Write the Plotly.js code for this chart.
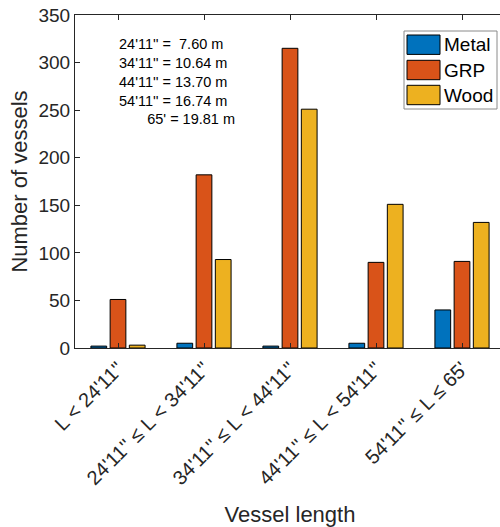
<!DOCTYPE html>
<html>
<head>
<meta charset="utf-8">
<script src="https://cdn.plot.ly/plotly-3.0.1.min.js"></script>
<style>
  html, body { margin: 0; padding: 0; overflow: hidden; background: #fff; }
  #chart { width: 510px; height: 527px; }
</style>
</head>
<body>
<div id="chart"></div>
<script>
// Vessel counts by length class and hull material
const lengthClasses = [
  "L < 24'11''",
  "24'11'' \u2264 L < 34'11''",
  "34'11'' \u2264 L < 44'11''",
  "44'11'' \u2264 L < 54'11''",
  "54'11'' \u2264 L \u2264 65'"
];
const materials = ["Metal", "GRP", "Wood"];
const metalCounts = [2, 5, 2, 5, 40];
const grpCounts = [51, 182, 315, 90, 91];
const woodCounts = [3, 93, 251, 151, 132];
const materialColors = ["#0072BD", "#D95319", "#EDB120"];
const conversionLines = [
  "24'11'' =\u00A0\u00A07.60 m",
  "34'11'' = 10.64 m",
  "44'11'' = 13.70 m",
  "54'11'' = 16.74 m",
  "\u00A0\u00A0\u00A0\u00A0\u00A0\u00A0\u00A065' = 19.81 m"
];
const yTicks = [0, 50, 100, 150, 200, 250, 300, 350];

const seriesValues = [metalCounts, grpCounts, woodCounts];
const ink = '#262626';
const fontFamily = '"Liberation Sans", Arial, Helvetica, sans-serif';

const traces = materials.map((name, i) => ({
  type: 'bar',
  name: name,
  x: lengthClasses,
  y: seriesValues[i],
  marker: { color: materialColors[i], line: { color: '#000', width: 1 } },
  showlegend: false,
  hoverinfo: 'x+y+name'
}));

// plot area in pixels (used to place the boxed legend in paper units)
const M = { l: 75, r: 5, t: 15, b: 179 };
const W = 510, H = 527;
const PW = W - M.l - M.r, PH = H - M.t - M.b;
const px = x => (x - M.l) / PW;
const py = y => (H - M.b - y) / PH;

const shapes = [{
  type: 'rect', xref: 'paper', yref: 'paper',
  x0: px(404), x1: px(497), y0: py(109), y1: py(31),
  fillcolor: '#fff', line: { color: '#8a8a8a', width: 1 }, layer: 'above'
}];
const annotations = [];
const rowTops = [35, 60.3, 85.3];
materials.forEach((name, i) => {
  shapes.push({
    type: 'rect', xref: 'paper', yref: 'paper',
    x0: px(407), x1: px(440), y0: py(rowTops[i] + 19.4), y1: py(rowTops[i]),
    fillcolor: materialColors[i], line: { color: '#000', width: 1 }, layer: 'above'
  });
  annotations.push({
    xref: 'paper', yref: 'paper', x: px(442), y: py(rowTops[i] + 9.7),
    xanchor: 'left', yanchor: 'middle', showarrow: false,
    text: name, font: { family: fontFamily, size: 19, color: '#000' }
  });
});
annotations.push({
  xref: 'paper', yref: 'paper', x: px(117), y: py(34),
  xanchor: 'left', yanchor: 'top', align: 'left', showarrow: false,
  text: conversionLines.join('<br>'),
  font: { family: fontFamily, size: 14.5, color: '#000' }
});

const layout = {
  width: W, height: H,
  margin: M,
  paper_bgcolor: '#fff', plot_bgcolor: '#fff',
  font: { family: fontFamily, color: ink },
  barmode: 'group',
  bargap: 0.33,
  bargroupgap: 0.18,
  xaxis: {
    type: 'category',
    tickangle: -45,
    ticks: 'inside', ticklen: 5, tickcolor: ink, tickwidth: 1,
    showline: true, linecolor: ink, linewidth: 1, mirror: 'ticks',
    showgrid: false,
    tickfont: { family: fontFamily, size: 20, color: ink },
    title: { text: 'Vessel length', standoff: 22, font: { family: fontFamily, size: 22, color: ink } },
    automargin: false
  },
  yaxis: {
    range: [0, 350],
    tickvals: yTicks,
    ticks: 'inside', ticklen: 5, tickcolor: ink, tickwidth: 1,
    showline: true, linecolor: ink, linewidth: 1, mirror: 'ticks',
    showgrid: false, zeroline: false,
    tickfont: { family: fontFamily, size: 19, color: ink },
    title: { text: 'Number of vessels', standoff: 4, font: { family: fontFamily, size: 22, color: ink } },
    automargin: false
  },
  shapes: shapes,
  annotations: annotations,
  showlegend: false
};

Plotly.newPlot('chart', traces, layout, { displayModeBar: false, staticPlot: true });
</script>
</body>
</html>
